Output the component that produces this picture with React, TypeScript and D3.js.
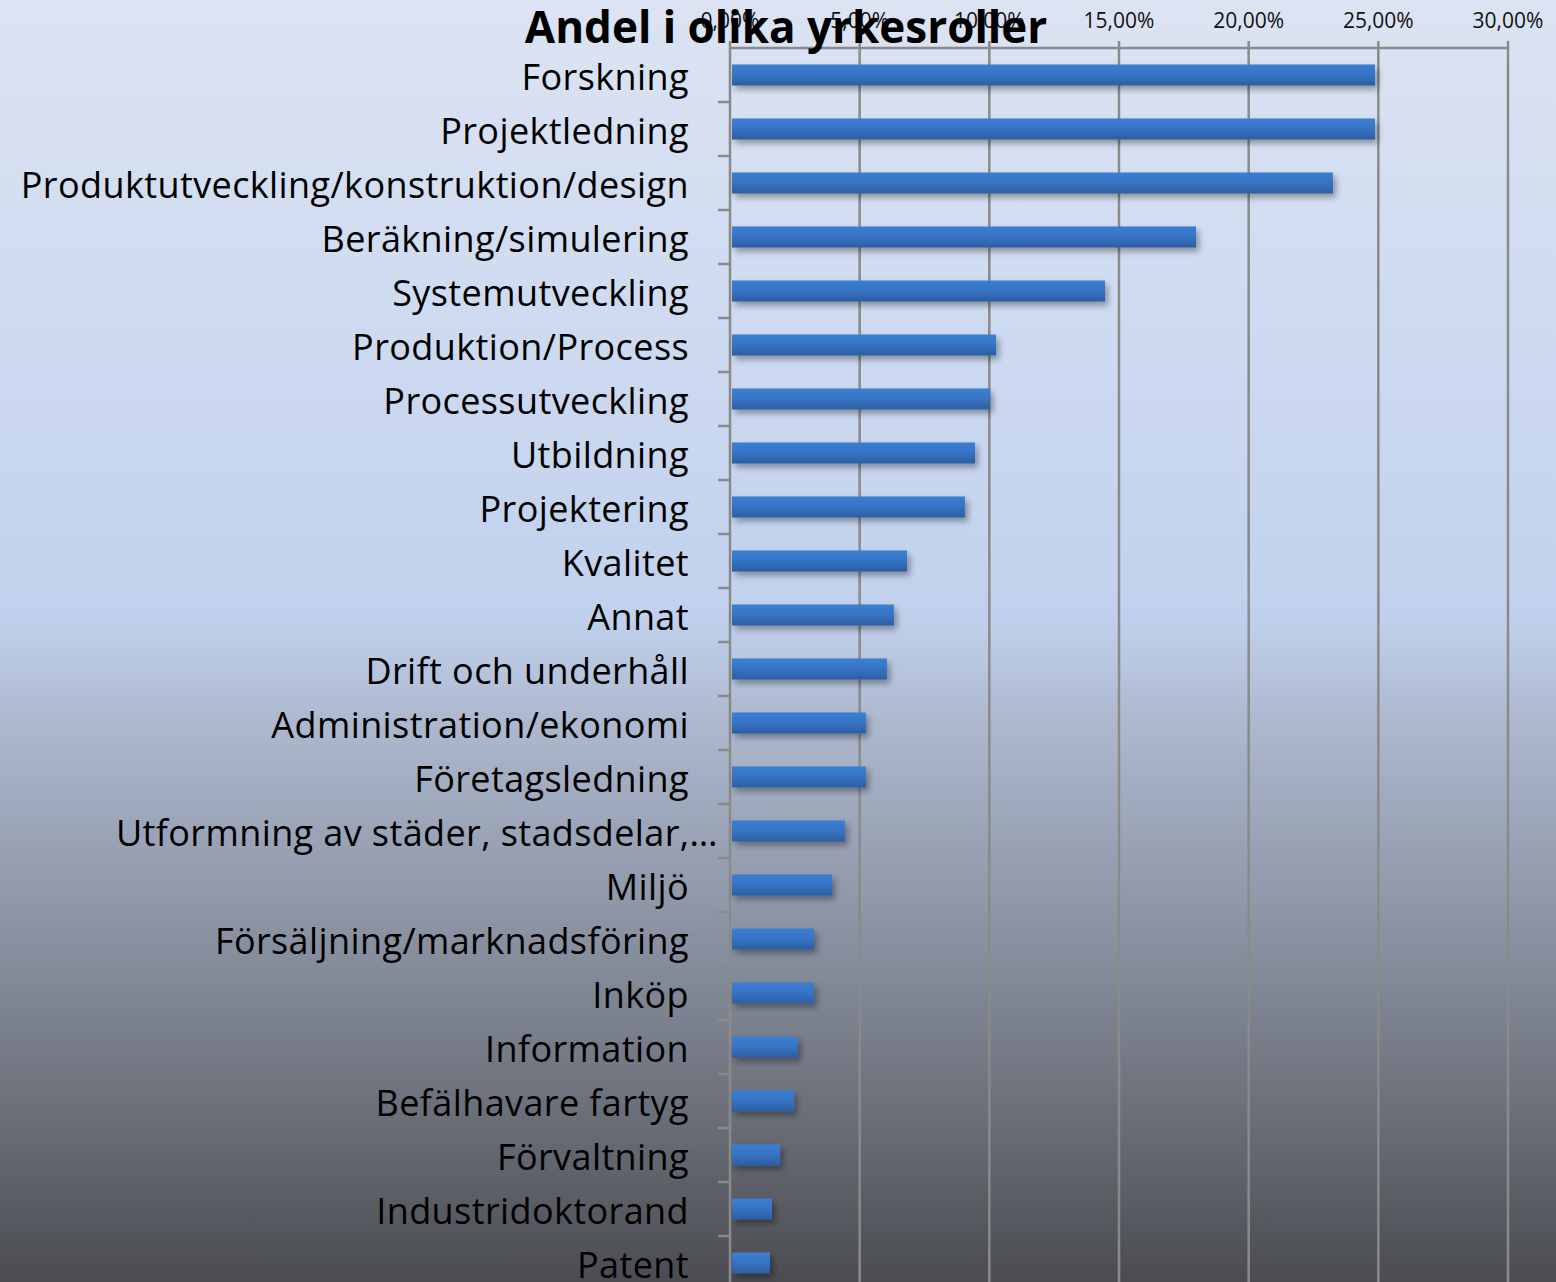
import React from "react";
import * as d3 from "d3";

const categories = [
  "Forskning",
  "Projektledning",
  "Produktutveckling/konstruktion/design",
  "Beräkning/simulering",
  "Systemutveckling",
  "Produktion/Process",
  "Processutveckling",
  "Utbildning",
  "Projektering",
  "Kvalitet",
  "Annat",
  "Drift och underhåll",
  "Administration/ekonomi",
  "Företagsledning",
  "Utformning av städer, stadsdelar,…",
  "Miljö",
  "Försäljning/marknadsföring",
  "Inköp",
  "Information",
  "Befälhavare fartyg",
  "Förvaltning",
  "Industridoktorand",
  "Patent",
];

const values = [
  24.87, 24.87, 23.25, 17.97, 14.46, 10.26, 10.03, 9.45, 9.06, 6.83, 6.32,
  6.05, 5.24, 5.24, 4.43, 3.93, 3.24, 3.24, 2.62, 2.47, 1.93, 1.62, 1.54,
];

const tickValues = [0, 5, 10, 15, 20, 25, 30];
const title = "Andel i olika yrkesroller";

const W = 1556;
const H = 1282;
const left = 730;
const right = 1508;
const top = 48;
const band = 54;

export default function App() {
  const x = d3.scaleLinear().domain([0, 30]).range([left, right]);
  const y = d3
    .scaleBand<string>()
    .domain(categories)
    .range([top, top + band * categories.length])
    .paddingInner(0.61)
    .paddingOuter(0.305);
  const fmt = (v: number) => v.toFixed(2).replace(".", ",") + "%";
  const font = "'Open Sans', sans-serif";
  const bottom = H;
  return (
    <svg
      width={W}
      height={H}
      style={{ position: "absolute", left: 0, top: 0, display: "block" }}
    >
      <defs>
        <linearGradient id="bg" x1="0" y1="0" x2="0" y2="1">
          <stop offset="0" stopColor="#dce4f3" />
          <stop offset="0.48" stopColor="#c1d1ed" />
          <stop offset="0.56" stopColor="#aeb9cf" />
          <stop offset="0.72" stopColor="#8c94a4" />
          <stop offset="0.88" stopColor="#686c75" />
          <stop offset="1" stopColor="#4a4c51" />
        </linearGradient>
        <linearGradient id="bar" x1="0" y1="0" x2="0" y2="1">
          <stop offset="0" stopColor="#3b7fd1" />
          <stop offset="0.5" stopColor="#3673c4" />
          <stop offset="1" stopColor="#2c5e9f" />
        </linearGradient>
        <filter id="shadow" x="-10%" y="-50%" width="130%" height="250%">
          <feGaussianBlur in="SourceAlpha" stdDeviation="3" />
          <feOffset dx="3" dy="4" result="ob" />
          <feComponentTransfer>
            <feFuncA type="linear" slope="0.35" />
          </feComponentTransfer>
          <feMerge>
            <feMergeNode />
            <feMergeNode in="SourceGraphic" />
          </feMerge>
        </filter>
      </defs>
      <rect x={0} y={0} width={W} height={H} fill="url(#bg)" />
      {tickValues.map((t) => (
        <line
          key={"g" + t}
          x1={x(t)}
          x2={x(t)}
          y1={top - 7}
          y2={bottom}
          stroke="#8a8a8a"
          strokeWidth={2.5}
        />
      ))}
      <line x1={left} x2={right} y1={top} y2={top} stroke="#8a8a8a" strokeWidth={2.5} />
      {categories.map((c, i) => (
        <line
          key={"t" + i}
          x1={left - 12}
          x2={left}
          y1={top + band * (i + 1)}
          y2={top + band * (i + 1)}
          stroke="#8a8a8a"
          strokeWidth={2.5}
        />
      ))}
      {tickValues.map((t) => (
        <text
          key={"l" + t}
          x={x(t)}
          y={28}
          textAnchor="middle"
          fontFamily={font}
          fontSize={21}
          fill="#111"
        >
          {fmt(t)}
        </text>
      ))}
      {categories.map((c, i) => (
        <rect
          key={"b" + i}
          x={x(0) + 2}
          y={y(c)}
          width={x(values[i]) - x(0) - 2}
          height={y.bandwidth()}
          fill="url(#bar)"
          filter="url(#shadow)"
        />
      ))}
      {categories.map((c, i) => (
        <text
          key={"c" + i}
          x={i === 14 ? 718 : 689}
          y={(y(c) as number) + y.bandwidth() / 2 + 2}
          dy="0.35em"
          textAnchor="end"
          fontFamily={font}
          fontSize={36}
          letterSpacing={0.4}
          fill="#000"
        >
          {c}
        </text>
      ))}
      <text
        x={786}
        y={43}
        textAnchor="middle"
        fontFamily={font}
        fontWeight="bold"
        fontSize={44}
        fill="#000"
      >
        {title}
      </text>
    </svg>
  );
}
